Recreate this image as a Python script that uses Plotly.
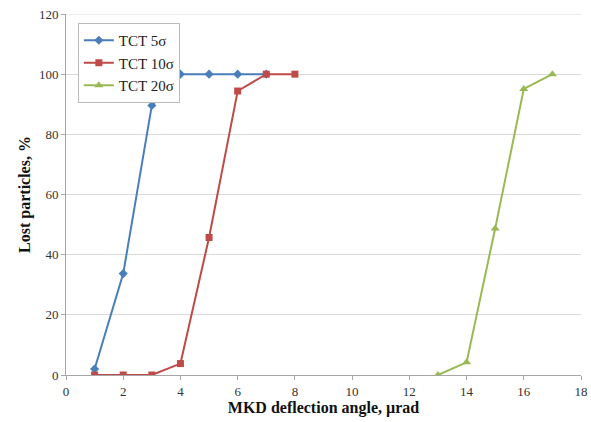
import plotly.graph_objects as go

# Lost particles vs MKD deflection angle
x_5 = [1, 2, 3, 4, 5, 6, 7]
y_5 = [2, 33.7, 89.6, 100, 100, 100, 100]

x_10 = [1, 2, 3, 4, 5, 6, 7, 8]
y_10 = [0, 0, 0, 3.8, 45.7, 94.4, 100, 100]

x_20 = [13, 14, 15, 16, 17]
y_20 = [0, 4.2, 48.7, 95.1, 100]

serif = "Liberation Serif, Times New Roman, serif"

fig = go.Figure()

fig.add_trace(go.Scatter(
    x=x_5, y=y_5, mode='lines+markers', name='TCT 5σ',
    line=dict(color='#4A7EBB', width=2),
    marker=dict(symbol='diamond', size=7, color='#4A7EBB')
))
fig.add_trace(go.Scatter(
    x=x_10, y=y_10, mode='lines+markers', name='TCT 10σ',
    line=dict(color='#BE4B48', width=2),
    marker=dict(symbol='square', size=7, color='#BE4B48')
))
fig.add_trace(go.Scatter(
    x=x_20, y=y_20, mode='lines+markers', name='TCT 20σ',
    line=dict(color='#98B954', width=2),
    marker=dict(symbol='triangle-up', size=8, color='#98B954')
))

# top gridline at the end of the y range
fig.add_shape(type='line', xref='paper', yref='y', x0=0, x1=1, y0=120, y1=120,
              line=dict(color='#D9D9D9', width=1), layer='below')

fig.update_layout(
    width=591, height=422,
    margin=dict(l=66, r=10, t=14, b=47, autoexpand=False),
    paper_bgcolor='white', plot_bgcolor='white',
    font=dict(family=serif, size=13, color='#333333'),
    showlegend=True,
    legend=dict(
        x=0.023, y=0.975, xanchor='left', yanchor='top',
        bgcolor='white', bordercolor='#BBBBBB', borderwidth=1,
        font=dict(family=serif, size=15, color='#222222'),
        itemwidth=30, tracegroupgap=0
    ),
    xaxis=dict(
        range=[0, 18], dtick=2, tick0=0, automargin=False,
        ticklabeloverflow='allow',
        showgrid=False, zeroline=False,
        showline=True, linecolor='#A6A6A6', linewidth=1,
        ticks='outside', ticklen=4, tickcolor='#A6A6A6',
        title=dict(text='<b>MKD deflection angle, µrad</b>',
                   font=dict(family=serif, size=16, color='#111111'), standoff=4)
    ),
    yaxis=dict(
        range=[0, 120], dtick=20, tick0=0, automargin=False,
        ticklabeloverflow='allow',
        showgrid=True, gridcolor='#D9D9D9', gridwidth=1, zeroline=False,
        showline=True, linecolor='#A6A6A6', linewidth=1,
        ticks='outside', ticklen=4, tickcolor='#A6A6A6',
        title=dict(text='<b>Lost particles, %</b>',
                   font=dict(family=serif, size=16, color='#111111'), standoff=4)
    )
)

# drop the default body margin so the figure fills the window exactly
fig.write_html("out.html",
               config={'displayModeBar': False},
               post_script="document.body.style.margin='0';"
                           "document.body.style.overflow='hidden';")
